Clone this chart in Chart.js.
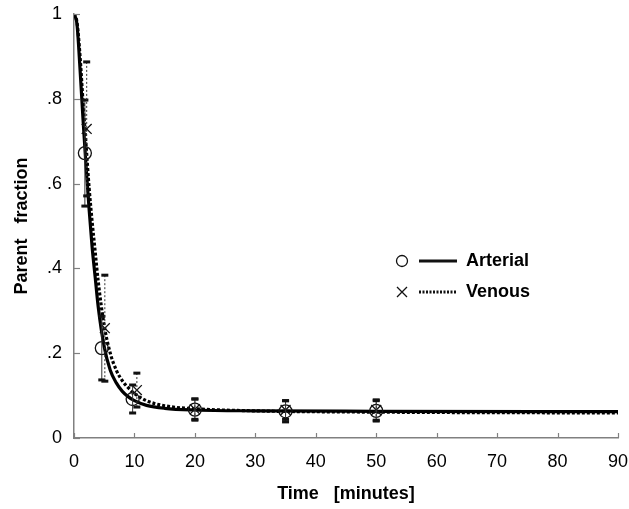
<!DOCTYPE html>
<html>
<head>
<meta charset="utf-8">
<script src="https://cdn.jsdelivr.net/npm/chart.js@4.4.1/dist/chart.umd.min.js"></script>
<style>
  html, body { margin: 0; padding: 0; background: #fff; }
  #wrap { width: 629px; height: 509px; }
</style>
</head>
<body>
<div id="wrap"><canvas id="grafico" width="629" height="509"></canvas></div>
<script>
// measured points (mean and error bar ends)
const arterialTime = [1.8, 4.6, 9.7, 20, 35, 50];
const arterialMean = [0.672, 0.212, 0.092, 0.067, 0.063, 0.064];
const arterialLow  = [0.547, 0.137, 0.059, 0.042, 0.038, 0.040];
const arterialHigh = [0.797, 0.287, 0.125, 0.092, 0.088, 0.088];

const venousTime = [2.1, 5.1, 10.4, 20, 35, 50];
const venousMean = [0.729, 0.259, 0.113, 0.068, 0.066, 0.066];
const venousLow  = [0.571, 0.134, 0.073, 0.044, 0.044, 0.042];
const venousHigh = [0.887, 0.384, 0.153, 0.092, 0.088, 0.090];

// fitted curves
const curveTime   = [0, 0.5, 1, 1.5, 2, 2.5, 3, 3.5, 4, 5, 6, 7, 8, 9, 10, 12, 15, 20, 30, 50, 90];
const arterialFit = [1.0, 0.975, 0.87, 0.75, 0.64, 0.54, 0.45, 0.38, 0.31, 0.215, 0.16, 0.13, 0.11, 0.097, 0.088, 0.077, 0.07, 0.066, 0.064, 0.063, 0.062];
const venousFit   = [1.0, 0.98, 0.9, 0.79, 0.69, 0.59, 0.51, 0.44, 0.37, 0.265, 0.2, 0.16, 0.135, 0.118, 0.105, 0.088, 0.076, 0.069, 0.064, 0.061, 0.059];

const xTicks = [0, 10, 20, 30, 40, 50, 60, 70, 80, 90];
const yTickLabels = ["0", ".2", ".4", ".6", ".8", "1"];

const pts = (xs, ys) => xs.map((x, i) => ({ x: x, y: ys[i] }));
const FONT = "'Liberation Sans', Arial, sans-serif";
const eixo = "#808080";

// error bars with small caps
const barras = {
  id: "barras",
  afterDatasetsDraw(chart) {
    const { ctx, scales: { x, y } } = chart;
    const series = [
      { t: arterialTime, lo: arterialLow, hi: arterialHigh, dash: [] },
      { t: venousTime, lo: venousLow, hi: venousHigh, dash: [2, 2] }
    ];
    ctx.save();
    series.forEach(s => {
      s.t.forEach((t, i) => {
        const px = x.getPixelForValue(t);
        const y1 = y.getPixelForValue(s.lo[i]);
        const y2 = y.getPixelForValue(s.hi[i]);
        ctx.strokeStyle = "#333";
        ctx.lineWidth = 1;
        ctx.setLineDash(s.dash);
        ctx.beginPath();
        ctx.moveTo(px, y1);
        ctx.lineTo(px, y2);
        ctx.stroke();
        ctx.fillStyle = "#111";
        ctx.fillRect(px - 3.5, y1 - 1.5, 7, 3);
        ctx.fillRect(px - 3.5, y2 - 1.5, 7, 3);
      });
    });
    ctx.restore();
  }
};

// inward ticks + legend
const extras = {
  id: "extras",
  afterDraw(chart) {
    const { ctx, chartArea: a, scales: { x, y } } = chart;
    ctx.save();
    ctx.strokeStyle = eixo;
    ctx.lineWidth = 1.2;
    xTicks.forEach(v => {
      const px = Math.round(x.getPixelForValue(v)) + 0.5;
      ctx.beginPath();
      ctx.moveTo(px, a.bottom);
      ctx.lineTo(px, a.bottom - 5);
      ctx.stroke();
    });
    yTickLabels.forEach((_, i) => {
      const py = Math.round(y.getPixelForValue(i * 0.2)) + 0.5;
      ctx.beginPath();
      ctx.moveTo(a.left, py);
      ctx.lineTo(a.left + 6, py);
      ctx.stroke();
    });

    // legend
    const lx = 402, ly1 = 261, ly2 = 292;
    ctx.strokeStyle = "#111";
    ctx.lineWidth = 1.3;
    ctx.beginPath();
    ctx.arc(lx, ly1, 5.5, 0, Math.PI * 2);
    ctx.stroke();
    ctx.beginPath();
    ctx.moveTo(lx - 5, ly2 - 5); ctx.lineTo(lx + 5, ly2 + 5);
    ctx.moveTo(lx + 5, ly2 - 5); ctx.lineTo(lx - 5, ly2 + 5);
    ctx.stroke();
    ctx.lineWidth = 3;
    ctx.beginPath();
    ctx.moveTo(419, ly1); ctx.lineTo(457, ly1);
    ctx.stroke();
    ctx.setLineDash([2, 1.5]);
    ctx.beginPath();
    ctx.moveTo(419, ly2); ctx.lineTo(457, ly2);
    ctx.stroke();
    ctx.setLineDash([]);
    ctx.fillStyle = "#000";
    ctx.font = "bold 18px " + FONT;
    ctx.textBaseline = "middle";
    ctx.fillText("Arterial", 466, ly1);
    ctx.fillText("Venous", 466, ly2);
    ctx.restore();
  }
};

const ctx = document.getElementById("grafico").getContext("2d");
new Chart(ctx, {
  type: "scatter",
  data: {
    datasets: [
      {
        label: "Arterial",
        data: pts(arterialTime, arterialMean),
        pointStyle: "circle",
        pointRadius: 6.5,
        borderColor: "#111",
        backgroundColor: "rgba(0,0,0,0)",
        borderWidth: 1.3,
        order: 1
      },
      {
        label: "Venous",
        data: pts(venousTime, venousMean),
        pointStyle: "crossRot",
        pointRadius: 7,
        borderColor: "#111",
        borderWidth: 1.3,
        order: 1
      },
      {
        label: "Venous fit",
        data: pts(curveTime, venousFit),
        showLine: true,
        pointRadius: 0,
        borderColor: "#000",
        borderWidth: 3.2,
        borderDash: [3, 2],
        cubicInterpolationMode: "monotone",
        order: 3
      },
      {
        label: "Arterial fit",
        data: pts(curveTime, arterialFit),
        showLine: true,
        pointRadius: 0,
        borderColor: "#000",
        borderWidth: 3.2,
        cubicInterpolationMode: "monotone",
        order: 2
      }
    ]
  },
  options: {
    responsive: false,
    animation: false,
    events: [],
    layout: { padding: { top: 14, right: 11, left: 0, bottom: 0 } },
    plugins: { legend: { display: false }, tooltip: { enabled: false } },
    scales: {
      x: {
        type: "linear",
        min: 0, max: 90,
        afterBuildTicks: s => { s.ticks = xTicks.map(v => ({ value: v })); },
        afterFit: s => { s.height = 71; s.paddingRight = 0; s.paddingLeft = 0; },
        grid: { drawOnChartArea: false, drawTicks: false },
        border: { display: true, color: eixo, width: 1.5 },
        ticks: { color: "#000", font: { family: FONT, size: 18 }, padding: 13, maxRotation: 0 },
        title: { display: true, text: "Time   [minutes]", color: "#000", font: { family: FONT, size: 18, weight: "bold" }, padding: { top: 4, bottom: 4 } }
      },
      y: {
        type: "linear",
        min: 0, max: 1,
        afterBuildTicks: s => { s.ticks = yTickLabels.map((_, i) => ({ value: i * 0.2 })); },
        afterFit: s => { s.width = 74; s.paddingTop = 0; s.paddingBottom = 0; },
        grid: { drawOnChartArea: false, drawTicks: false },
        border: { display: true, color: eixo, width: 1.5 },
        ticks: {
          color: "#000", font: { family: FONT, size: 18 }, padding: 12,
          callback: v => yTickLabels[Math.round(v * 5)]
        },
        title: { display: true, text: "Parent   fraction", color: "#000", font: { family: FONT, size: 18, weight: "bold" }, padding: { top: 11, bottom: 4 } }
      }
    }
  },
  plugins: [barras, extras]
});
</script>
</body>
</html>
